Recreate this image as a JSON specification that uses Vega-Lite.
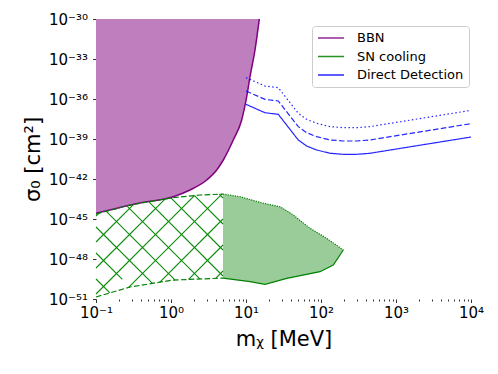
{
  "$schema": "https://vega.github.io/schema/vega-lite/v6.json",
  "width": 375,
  "height": 280,
  "autosize": {"type": "none"},
  "padding": {"left": 96, "top": 19, "right": 27, "bottom": 55},
  "background": "white",
  "config": {
    "font": "DejaVu Sans",
    "view": {"stroke": null},
    "axis": {
      "grid": false, "domain": false, "tickColor": "#000", "tickWidth": 0.8,
      "labelFont": "DejaVu Sans", "labelFontSize": 15, "labelColor": "#000", "labelPadding": 5,
      "titleFont": "DejaVu Sans", "titleFontSize": 21, "titleFontWeight": "normal", "titleColor": "#000",
      "labelOverlap": false, "labelFlush": false, "labelBound": false
    }
  },
  "datasets": {
    "bbn": [
      {"m": 0.1, "s": 2.69e-45}, {"m": 0.386, "s": 1.585e-44}, {"m": 1.073, "s": 4.68e-44},
      {"m": 1.792, "s": 1.496e-43}, {"m": 2.992, "s": 8.41e-43}, {"m": 4.067, "s": 4.73e-42},
      {"m": 4.982, "s": 2.66e-41}, {"m": 6.77, "s": 8.41e-40}, {"m": 8.76, "s": 2.66e-38},
      {"m": 10.22, "s": 1.479e-36}, {"m": 11.31, "s": 4.68e-35}, {"m": 13.18, "s": 4.73e-33},
      {"m": 15.04, "s": 1e-30}
    ],
    "sn_dash": [
      {"edge": "top", "m": 0.1, "s": 2.344e-45}, {"edge": "top", "m": 0.284, "s": 1.122e-44},
      {"edge": "top", "m": 0.97, "s": 3.715e-44}, {"edge": "top", "m": 2.44, "s": 6.31e-44},
      {"edge": "top", "m": 4.935, "s": 7.413e-44},
      {"edge": "bottom", "m": 0.1, "s": 1.413e-51}, {"edge": "bottom", "m": 0.284, "s": 7.943e-51},
      {"edge": "bottom", "m": 1.063, "s": 2.63e-50}, {"edge": "bottom", "m": 4.935, "s": 3.715e-50}
    ],
    "sn_fill": [
      {"m": 4.935, "s": 3.715e-50, "s2": 7.413e-44}, {"m": 8.32, "s": 2.512e-50, "s2": 4.68e-44},
      {"m": 11.31, "s": 1.995e-50, "s2": 2.884e-44}, {"m": 17.5, "s": 1.318e-50, "s2": 1.479e-44},
      {"m": 28.4, "s": 2.57e-50, "s2": 8.32e-45}, {"m": 34.9, "s": 3.548e-50, "s2": 4.074e-45},
      {"m": 42.7, "s": 4.467e-50, "s2": 1.995e-45}, {"m": 71.4, "s": 7.943e-50, "s2": 1.995e-46},
      {"m": 97, "s": 1.122e-49, "s2": 7.079e-47}, {"m": 119, "s": 1.995e-49, "s2": 3.548e-47},
      {"m": 145.9, "s": 3.548e-49, "s2": 1.585e-47}, {"m": 198.3, "s": 4.73e-48, "s2": 4.73e-48}
    ],
    "sn_top": [
      {"m": 4.935, "s": 7.413e-44}, {"m": 8.32, "s": 4.68e-44}, {"m": 17.0, "s": 1.514e-44},
      {"m": 28.4, "s": 8.32e-45}, {"m": 42.7, "s": 1.995e-45}, {"m": 71.4, "s": 1.995e-46},
      {"m": 119, "s": 3.548e-47}, {"m": 198.3, "s": 4.73e-48}
    ],
    "sn_bot": [
      {"m": 4.935, "s": 3.715e-50}, {"m": 11.31, "s": 1.995e-50}, {"m": 17.92, "s": 1.259e-50},
      {"m": 34.9, "s": 3.548e-50}, {"m": 97, "s": 1.122e-49}, {"m": 145.9, "s": 3.548e-49},
      {"m": 198.3, "s": 4.73e-48}
    ],
    "dd": [
      {"kind": "solid", "m": 10, "s": 3.98e-37}, {"kind": "solid", "m": 17.92, "s": 9.33e-38},
      {"kind": "solid", "m": 26.96, "s": 7.08e-38}, {"kind": "solid", "m": 49.8, "s": 8.41e-40},
      {"kind": "solid", "m": 64.4, "s": 2.985e-40}, {"kind": "solid", "m": 87.6, "s": 1.496e-40},
      {"kind": "solid", "m": 131.8, "s": 8.5e-41}, {"kind": "solid", "m": 198.3, "s": 7.08e-41},
      {"kind": "solid", "m": 299, "s": 7.08e-41}, {"kind": "solid", "m": 450, "s": 8.5e-41},
      {"kind": "solid", "m": 10000, "s": 1.41e-39},
      {"kind": "dashed", "m": 10, "s": 3.98e-36}, {"kind": "dashed", "m": 17.92, "s": 9.33e-37},
      {"kind": "dashed", "m": 26.96, "s": 7.08e-37}, {"kind": "dashed", "m": 49.8, "s": 8.41e-39},
      {"kind": "dashed", "m": 64.4, "s": 2.985e-39}, {"kind": "dashed", "m": 87.6, "s": 1.496e-39},
      {"kind": "dashed", "m": 131.8, "s": 8.5e-40}, {"kind": "dashed", "m": 198.3, "s": 7.08e-40},
      {"kind": "dashed", "m": 299, "s": 7.08e-40}, {"kind": "dashed", "m": 450, "s": 8.5e-40},
      {"kind": "dashed", "m": 10000, "s": 1.41e-38},
      {"kind": "dotted", "m": 10, "s": 3.98e-35}, {"kind": "dotted", "m": 17.92, "s": 9.33e-36},
      {"kind": "dotted", "m": 26.96, "s": 7.08e-36}, {"kind": "dotted", "m": 49.8, "s": 8.41e-38},
      {"kind": "dotted", "m": 64.4, "s": 2.985e-38}, {"kind": "dotted", "m": 87.6, "s": 1.496e-38},
      {"kind": "dotted", "m": 131.8, "s": 8.5e-39}, {"kind": "dotted", "m": 198.3, "s": 7.08e-39},
      {"kind": "dotted", "m": 299, "s": 7.08e-39}, {"kind": "dotted", "m": 450, "s": 8.5e-39},
      {"kind": "dotted", "m": 10000, "s": 1.41e-37}
    ],
    "hatch": [
      {"id": "a1", "m": 0.1, "s": 3.162e-50, "m2": 0.1532, "s2": 2.884e-51},
      {"id": "a2", "m": 0.1, "s": 2.818e-48, "m2": 0.2243, "s2": 3.02e-50},
      {"id": "a3", "m": 0.1, "s": 2.512e-46, "m2": 0.5649, "s2": 1.479e-50},
      {"id": "a4", "m": 0.1372, "s": 3.802e-45, "m2": 1.127, "s2": 2.692e-50},
      {"id": "a5", "m": 0.2575, "s": 9.772e-45, "m2": 2.428, "s2": 3.236e-50},
      {"id": "a6", "m": 0.5043, "s": 1.995e-44, "m2": 4.935, "s2": 5.309e-50},
      {"id": "a7", "m": 0.997, "s": 3.802e-44, "m2": 4.935, "s2": 4.73e-48},
      {"id": "a8", "m": 2.058, "s": 5.754e-44, "m2": 4.935, "s2": 4.217e-46},
      {"id": "a9", "m": 4.392, "s": 7.244e-44, "m2": 4.935, "s2": 3.758e-44},
      {"id": "b1", "m": 0.1, "s": 1.679e-45, "m2": 0.1086, "s2": 2.692e-45},
      {"id": "b2", "m": 0.1, "s": 1.884e-47, "m2": 0.3172, "s2": 1.245e-44},
      {"id": "b3", "m": 0.1, "s": 2.113e-49, "m2": 0.837, "s2": 3.273e-44},
      {"id": "b4", "m": 0.1, "s": 2.371e-51, "m2": 2.051, "s2": 5.689e-44},
      {"id": "b5", "m": 0.2721, "s": 7.413e-51, "m2": 4.771, "s2": 7.413e-44},
      {"id": "b6", "m": 0.7112, "s": 1.862e-50, "m2": 4.935, "s2": 1e-45},
      {"id": "b7", "m": 1.717, "s": 2.951e-50, "m2": 4.935, "s2": 1.122e-47},
      {"id": "b8", "m": 3.945, "s": 3.548e-50, "m2": 4.935, "s2": 1.259e-49}
    ]
  },
  "encoding": {
    "x": {
      "field": "m", "type": "quantitative",
      "scale": {"type": "log", "domain": [0.1, 10000], "nice": false},
      "axis": {
        "title": "mᵪ [MeV]", "titlePadding": 8, "labelPadding": 3,
        "values": [0.1,0.2,0.3,0.4,0.5,0.6,0.7,0.8,0.9,1,2,3,4,5,6,7,8,9,10,20,30,40,50,60,70,80,90,100,200,300,400,500,600,700,800,900,1000,2000,3000,4000,5000,6000,7000,8000,9000,10000],
        "tickSize": {"condition": {"test": "abs(log(datum.value)/LN10 - round(log(datum.value)/LN10)) < 0.001", "value": 3.5}, "value": 2},
        "labelExpr": "abs(log(datum.value)/LN10 - round(log(datum.value)/LN10)) < 0.001 ? '10' + replace(replace(replace(replace(replace(replace(replace(replace(replace(replace(replace(''+round(log(datum.value)/LN10),'-','⁻'),regexp('0','g'),'⁰'),regexp('1','g'),'¹'),regexp('2','g'),'²'),regexp('3','g'),'³'),regexp('4','g'),'⁴'),regexp('5','g'),'⁵'),regexp('6','g'),'⁶'),regexp('7','g'),'⁷'),regexp('8','g'),'⁸'),regexp('9','g'),'⁹') : ''"
      }
    },
    "y": {
      "field": "s", "type": "quantitative",
      "scale": {"type": "log", "domain": [1e-51, 1e-30], "nice": false},
      "axis": {
        "title": "σ₀ [cm²]", "titlePadding": 5, "tickSize": 3.5,
        "values": [1e-51, 1e-48, 1e-45, 1e-42, 1e-39, 1e-36, 1e-33, 1e-30],
        "labelExpr": "'10' + replace(replace(replace(replace(replace(replace(replace(replace(replace(replace(replace(''+round(log(datum.value)/LN10),'-','⁻'),regexp('0','g'),'⁰'),regexp('1','g'),'¹'),regexp('2','g'),'²'),regexp('3','g'),'³'),regexp('4','g'),'⁴'),regexp('5','g'),'⁵'),regexp('6','g'),'⁶'),regexp('7','g'),'⁷'),regexp('8','g'),'⁸'),regexp('9','g'),'⁹')"
      }
    }
  },
  "layer": [
    {
      "data": {"name": "bbn"},
      "mark": {"type": "area", "color": "#bf7fbf", "opacity": 1, "interpolate": "monotone", "clip": true},
      "encoding": {"y2": {"datum": 1e-30}}
    },
    {
      "data": {"name": "bbn"},
      "mark": {"type": "line", "strokeWidth": 1.5, "interpolate": "monotone", "clip": true},
      "encoding": {
        "color": {
          "datum": "BBN",
          "scale": {"domain": ["BBN", "SN cooling", "Direct Detection"], "range": ["#800080", "#008000", "#0000ff"]},
          "legend": {
            "title": null, "orient": "none", "legendX": 216, "legendY": 7,
            "symbolType": "stroke", "symbolStrokeWidth": 1.5, "symbolSize": 676, "symbolOpacity": 0.65,
            "clipHeight": 14, "rowPadding": 4.5,
            "labelFont": "DejaVu Sans", "labelFontSize": 13, "labelColor": "#000", "labelOffset": 12,
            "padding": 5, "strokeColor": "#cccccc", "cornerRadius": 3, "fillColor": "white"
          }
        }
      }
    },
    {
      "data": {"name": "sn_fill"},
      "mark": {"type": "area", "color": "#99cc99", "opacity": 1},
      "encoding": {"y2": {"field": "s2"}}
    },
    {
      "data": {"name": "hatch"},
      "mark": {"type": "rule", "color": "#0a8a0a", "strokeWidth": 1.1, "opacity": 1},
      "encoding": {"x2": {"field": "m2"}, "y2": {"field": "s2"}}
    },
    {
      "data": {"name": "sn_dash"},
      "mark": {"type": "line", "strokeWidth": 1.2, "strokeDash": [5.5, 2.4]},
      "encoding": {"detail": {"field": "edge"}, "color": {"datum": "SN cooling"}}
    },
    {
      "data": {"name": "sn_top"},
      "mark": {"type": "line", "strokeWidth": 1.2, "strokeDash": [1.2, 1.2]},
      "encoding": {"color": {"datum": "SN cooling"}}
    },
    {
      "data": {"name": "sn_bot"},
      "mark": {"type": "line", "strokeWidth": 1.2},
      "encoding": {"color": {"datum": "SN cooling"}}
    },
    {
      "data": {"name": "dd"},
      "mark": {"type": "line", "strokeWidth": 1.2, "opacity": 0.85},
      "encoding": {
        "detail": {"field": "kind"},
        "color": {"datum": "Direct Detection"},
        "strokeDash": {
          "field": "kind", "type": "nominal",
          "scale": {"domain": ["solid", "dashed", "dotted"], "range": [[1, 0], [5.5, 2.4], [1.5, 2.5]]},
          "legend": null
        }
      }
    },
    {
      "data": {"values": [{}]},
      "mark": {"type": "rect", "filled": false, "stroke": "#000", "strokeWidth": 1},
      "encoding": {
        "x": {"datum": 0.1, "type": "quantitative"},
        "x2": {"datum": 10000},
        "y": {"datum": 1e-51, "type": "quantitative"},
        "y2": {"datum": 1e-30}
      }
    }
  ]
}
